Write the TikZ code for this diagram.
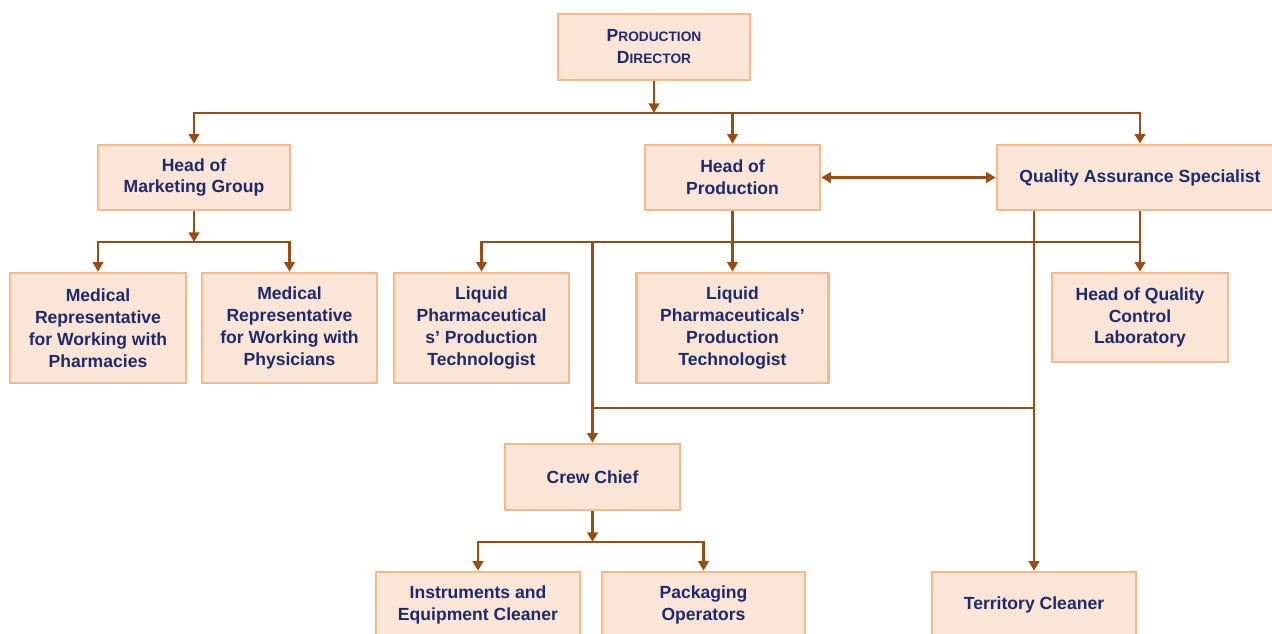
\documentclass[tikz,border=0pt]{standalone}
\usepackage{fontspec}
\setmainfont{Liberation Sans}
\usetikzlibrary{arrows.meta}

\definecolor{boxfill}{HTML}{FBE5D6}
\definecolor{boxline}{HTML}{F6B98C}
\definecolor{navy}{HTML}{1F2A6E}
\definecolor{brown}{HTML}{9A4C12}

\newcommand\capsmall[2]{#1{\fontsize{7.8}{12.5}\selectfont #2}}

\begin{document}
\begin{tikzpicture}[x=0.02cm,y=-0.02cm,
		box/.style={draw=boxline,fill=boxfill,line width=1.5pt,text=navy,align=center,inner sep=0pt,
			font=\fontsize{10}{12.5}\selectfont\bfseries},
		link/.style={draw=brown,line width=1.4pt},
		arr/.style={link,-{Triangle[width=6pt,length=5.5pt]}},
		both/.style={link,{Triangle[width=6pt,length=5.5pt]}-{Triangle[width=6pt,length=5.5pt]}}]
	\useasboundingbox (0,0) rectangle (1272,634);
	\clip (0,0) rectangle (1272,634);

	% top
	\node[box,minimum width=3.84cm,minimum height=1.32cm]	(dir)	at (654,47)		{\capsmall{P}{RODUCTION}\\\capsmall{D}{IRECTOR}};
	\node[box,minimum width=3.84cm,minimum height=1.30cm]	(mkt)	at (194,177.5)	{Head of\\Marketing Group};
	\node[box,minimum width=3.50cm,minimum height=1.30cm]	(prod)	at (732.5,177.5)	{Head of\\Production};
	\node[box,minimum width=5.72cm,minimum height=1.30cm]	(qa)	at (1140,177.5)	{Quality Assurance Specialist};

	% second row
	\node[box,minimum width=3.52cm,minimum height=2.20cm]	(rep1)	at (98,328)		{Medical\\Representative\\for Working with\\Pharmacies};
	\node[box,minimum width=3.50cm,minimum height=2.20cm]	(rep2)	at (289.5,328)	{Medical\\Representative\\for Working with\\Physicians};
	\node[box,minimum width=3.50cm,minimum height=2.20cm]	(liq1)	at (481.5,328)	{Liquid\\Pharmaceutical\\s' Production\\Technologist};
	\node[box,minimum width=3.84cm,minimum height=2.20cm]	(liq2)	at (732.5,328)	{Liquid\\Pharmaceuticals'\\Production\\Technologist};
	\node[box,minimum width=3.52cm,minimum height=1.78cm]	(qcl)	at (1140,317.5)	{Head of Quality\\Control\\Laboratory};

	% lower rows
	\node[box,minimum width=3.50cm,minimum height=1.32cm]	(crew)	at (592.5,477)	{Crew Chief};
	\node[box,minimum width=4.08cm,minimum height=1.32cm]	(inst)	at (478,605)	{Instruments and\\Equipment Cleaner};
	\node[box,minimum width=4.06cm,minimum height=1.32cm]	(pack)	at (703.5,605)	{Packaging\\Operators};
	\node[box,minimum width=4.08cm,minimum height=1.32cm]	(terr)	at (1034,605)	{Territory Cleaner};

	\coordinate (b1) at (654,113);
	\coordinate (b2) at (194,242);
	\coordinate (b3) at (732.5,242);
	\coordinate (b4) at (592.5,408);
	\coordinate (b5) at (592.5,542);

	\draw[arr] (dir) -- (b1);
	\draw[arr] (b1) -| (mkt.north);
	\draw[arr] (b1) -| (qa.north);
	\draw[arr] (b1 -| prod.north) -- (prod.north);
	\draw[both] (prod) -- (qa);

	\draw[arr] (mkt) -- (b2);
	\draw[arr] (b2) -| (rep1.north);
	\draw[arr] (b2) -| (rep2.north);

	\draw[arr] (prod) -- (liq2);
	\draw[arr] (b3) -| (liq1.north);
	\draw[link] (b3) -- (b3 -| qcl.north);
	\draw[arr] (qa.south -| qcl.north) -- (qcl.north);
	\draw[arr] (b3 -| crew.north) -- (crew.north);
	\draw[arr] (qa.south -| terr.north) -- (terr.north);
	\draw[link] (b4) -- (b4 -| terr.north);

	\draw[arr] (crew) -- (b5);
	\draw[arr] (b5) -| (inst.north);
	\draw[arr] (b5) -| (pack.north);
\end{tikzpicture}
\end{document}
